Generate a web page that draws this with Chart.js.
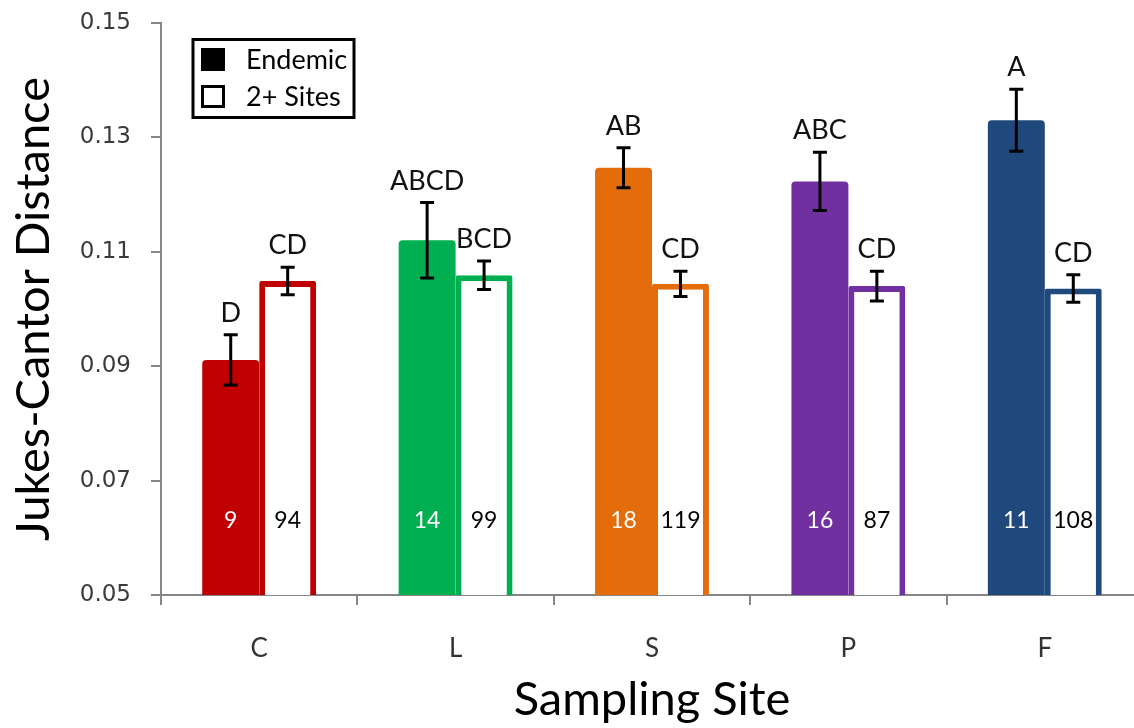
<!DOCTYPE html>
<html>
<head>
<meta charset="utf-8">
<title>Jukes-Cantor Distance by Sampling Site</title>
<script src="https://cdn.jsdelivr.net/npm/chart.js@4.4.0/dist/chart.umd.min.js"></script>
<style>
  html, body { margin: 0; padding: 0; background: #fff; overflow: hidden; }
  #wrap { width: 1143px; height: 728px; }
</style>
</head>
<body>
<div id="wrap"><canvas id="jc-chart" width="1143" height="728"></canvas></div>
<script>
// Sites and series values
var sites = ["C", "L", "S", "P", "F"];
var siteColors = ["#C00000", "#00B050", "#E46C0A", "#7030A0", "#1F497D"];

var endemicMean = [0.0911, 0.1120, 0.1247, 0.1223, 0.1330];
var endemicErr = [0.0044, 0.0066, 0.0035, 0.0051, 0.0054];
var endemicLetters = ["D", "ABCD", "AB", "ABC", "A"];
var endemicN = [9, 14, 18, 16, 11];

var multiMean = [0.1049, 0.1059, 0.1044, 0.1040, 0.1036];
var multiErr = [0.0024, 0.0025, 0.0022, 0.0026, 0.0024];
var multiLetters = ["CD", "BCD", "CD", "CD", "CD"];
var multiN = [94, 99, 119, 87, 108];

var yTicks = [0.05, 0.07, 0.09, 0.11, 0.13, 0.15];

(function () {
  var labelFont = "Lato, 'Open Sans', sans-serif";

  // Error bars, significance letters and sample sizes
  var annotations = {
    id: "annotations",
    afterDatasetsDraw: function (chart) {
      var ctx = chart.ctx;
      var yScale = chart.scales.y;
      var area = chart.chartArea;

      chart.data.datasets.forEach(function (ds, i) {
        var meta = chart.getDatasetMeta(i);
        meta.data.forEach(function (bar, j) {
          var mean = ds.data[j];
          var err = ds.errors[j];
          var yTop = yScale.getPixelForValue(mean + err);
          var yBot = yScale.getPixelForValue(mean - err);
          var x = bar.x;

          ctx.save();
          ctx.strokeStyle = "#000";
          ctx.lineWidth = 3;
          ctx.beginPath();
          ctx.moveTo(x, yTop);
          ctx.lineTo(x, yBot);
          ctx.moveTo(x - 7, yTop);
          ctx.lineTo(x + 7, yTop);
          ctx.moveTo(x - 7, yBot);
          ctx.lineTo(x + 7, yBot);
          ctx.stroke();

          // letter groups above the error bar
          ctx.fillStyle = "#111";
          ctx.font = "27px " + labelFont;
          ctx.textAlign = "center";
          ctx.textBaseline = "alphabetic";
          ctx.fillText(ds.letters[j], x, yTop - 13);

          // n inside the bar
          ctx.fillStyle = ds.countColor;
          ctx.font = "23px " + labelFont;
          ctx.fillText(String(ds.counts[j]), x, area.bottom - 67);
          ctx.restore();
        });
      });
    },
  };

  // Boxed legend in the upper left corner
  var boxLegend = {
    id: "boxLegend",
    afterDraw: function (chart) {
      var ctx = chart.ctx;
      var items = chart.data.datasets;
      ctx.save();
      ctx.lineWidth = 3;
      ctx.strokeStyle = "#000";
      ctx.strokeRect(193, 39.5, 161, 78);

      ctx.font = "27px " + labelFont;
      ctx.textAlign = "left";
      ctx.textBaseline = "middle";
      items.forEach(function (ds, i) {
        var y = 48 + i * 37;
        if (i === 0) {
          ctx.fillStyle = "#000";
          ctx.fillRect(201, y, 24, 23);
        } else {
          ctx.lineWidth = 3;
          ctx.strokeRect(202.5, y + 1.5, 21, 20);
        }
        ctx.fillStyle = "#000";
        ctx.fillText(ds.label, 246, y + 12);
      });
      ctx.restore();
    },
  };

  var ctx = document.getElementById("jc-chart");

  new Chart(ctx, {
    type: "bar",
    data: {
      labels: sites,
      datasets: [
        {
          label: "Endemic",
          data: endemicMean,
          errors: endemicErr,
          letters: endemicLetters,
          counts: endemicN,
          countColor: "#fff",
          backgroundColor: siteColors,
          borderWidth: 0,
          borderRadius: 4,
          categoryPercentage: 0.58,
          barPercentage: 1.0,
        },
        {
          label: "2+ Sites",
          data: multiMean,
          errors: multiErr,
          letters: multiLetters,
          counts: multiN,
          countColor: "#000",
          backgroundColor: "#fff",
          borderColor: siteColors,
          borderWidth: 6,
          borderSkipped: false,
          borderRadius: 2,
          categoryPercentage: 0.58,
          barPercentage: 1.0,
        },
      ],
    },
    options: {
      responsive: false,
      animation: false,
      devicePixelRatio: 1,
      layout: {
        padding: { top: 23, right: 0, bottom: 0, left: 0 },
      },
      plugins: {
        legend: { display: false },
        tooltip: { enabled: false },
      },
      scales: {
        x: {
          offset: true,
          grid: {
            display: true,
            offset: true,
            drawOnChartArea: false,
            drawTicks: true,
            tickLength: 10,
            color: "#868686",
            lineWidth: 2,
          },
          border: { display: true, color: "#868686", width: 2 },
          ticks: {
            color: "#333",
            font: { family: labelFont, size: 26 },
            padding: 28,
          },
          title: {
            display: true,
            text: "Sampling Site",
            color: "#000",
            font: { family: labelFont, size: 47 },
            padding: { top: 0, bottom: 0 },
          },
          afterFit: function (scale) {
            scale.height = 133;
          },
        },
        y: {
          min: 0.05,
          max: 0.15,
          afterBuildTicks: function (scale) {
            scale.ticks = yTicks.map(function (v) {
              return { value: v };
            });
          },
          grid: {
            display: true,
            drawOnChartArea: false,
            drawTicks: true,
            tickLength: 10,
            color: "#868686",
            lineWidth: 2,
          },
          border: { display: true, color: "#868686", width: 2 },
          ticks: {
            color: "#3a3a3a",
            font: { family: "'DejaVu Sans', Verdana, sans-serif", size: 23 },
            padding: 20,
            callback: function (v) {
              return Number(v).toFixed(2);
            },
          },
          title: {
            display: true,
            text: "Jukes-Cantor Distance",
            color: "#000",
            font: { family: labelFont, size: 47 },
            padding: { top: 6, bottom: 0 },
          },
          afterFit: function (scale) {
            scale.width = 161;
            // plot area runs right up to the top padding
            scale.paddingTop = 0;
            scale.paddingBottom = 0;
          },
        },
      },
    },
    plugins: [annotations, boxLegend],
  });
})();
</script>
</body>
</html>
